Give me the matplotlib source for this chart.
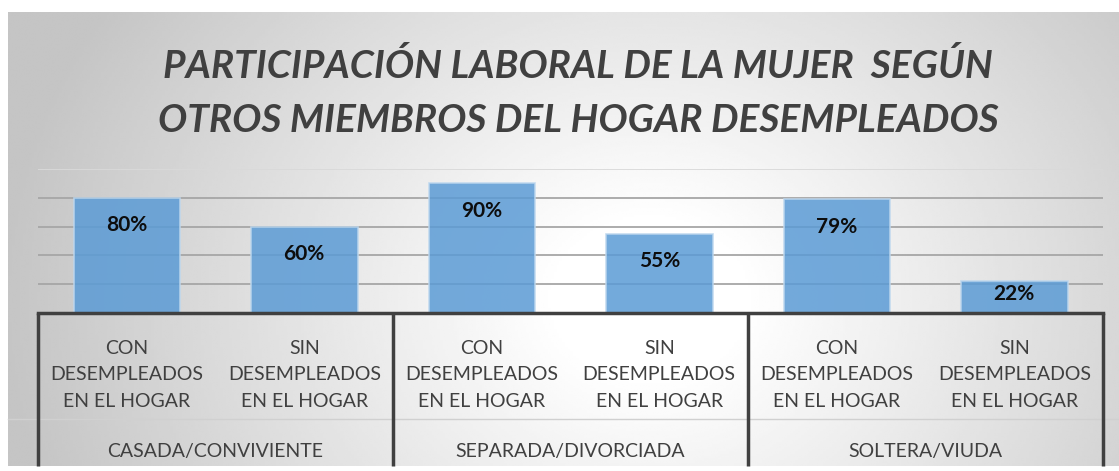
import numpy as np
import matplotlib
matplotlib.use("Agg")
import matplotlib.pyplot as plt
from matplotlib.transforms import blended_transform_factory

# ------------------------------------------------------
# DATA
# ------------------------------------------------------

GROUPS = ["CASADA/CONVIVIENTE", "SEPARADA/DIVORCIADA", "SOLTERA/VIUDA"]
SUBCATS = ["CON\nDESEMPLEADOS\nEN EL HOGAR", "SIN\nDESEMPLEADOS\nEN EL HOGAR"]
VALUES = [80, 60, 90, 55, 79, 22]   # %
TITLE = "PARTICIPACIÓN LABORAL DE LA MUJER  SEGÚN\nOTROS MIEMBROS DEL HOGAR DESEMPLEADOS"

FONT = "Lato"
W, H = 1119, 471

# ------------------------------------------------------
# FIGURE + GRADIENT BACKGROUND
# ------------------------------------------------------

fig = plt.figure(figsize=(W / 100, H / 100), dpi=100)
fig.patch.set_facecolor("white")

bg = fig.add_axes([8 / W, 5 / H, (W - 8) / W, (466 - 12) / H], zorder=0)
gx = np.linspace(8, W, 400)
gy = np.linspace(12, 466, 200)
XX, YY = np.meshgrid(gx, gy)
r = np.sqrt(((XX - 650) / 620) ** 2 + ((YY - 300) / 520) ** 2)
shade = np.clip((r - 0.15) / 0.9, 0, 1)
grey = 1.0 - shade * (1.0 - 0.77)
bg.imshow(grey, cmap="gray", vmin=0, vmax=1, aspect="auto", interpolation="bilinear")
bg.axis("off")

# ------------------------------------------------------
# BAR AXES
# ------------------------------------------------------

x0, x1, ytop, ybot = 38, 1103, 169, 313
ax = fig.add_axes([x0 / W, (H - ybot) / H, (x1 - x0) / W, (ybot - ytop) / H], zorder=1)
ax.patch.set_alpha(0)

x = np.arange(len(VALUES))
ax.set_xlim(-0.5, len(VALUES) - 0.5)
ax.set_ylim(0, 100)

for g in [20, 40, 60, 80]:
    ax.axhline(g, color="#a6a6a6", lw=1.3, zorder=1)
ax.axhline(100, color="#d9d9d9", lw=1.3, zorder=1)

ax.bar(x, VALUES, width=0.6, color="#5b9bd5", alpha=0.85,
       edgecolor="#bdd7ee", linewidth=1.2, zorder=2)

for xi, v in zip(x, VALUES):
    yl = v - 19 if v > 40 else v * 0.6
    ax.text(xi, yl, f"{v}%", ha="center", va="center", fontsize=15,
            fontweight="bold", family=FONT, color="#0d0d0d", zorder=3)

for s in ["top", "left", "right"]:
    ax.spines[s].set_visible(False)
ax.spines["bottom"].set_color("#404040")
ax.spines["bottom"].set_linewidth(2.5)
ax.spines["bottom"].set_zorder(4)
ax.set_xticks([])
ax.set_yticks([])

# two-level category axis
px = lambda yp: (ybot - yp) / (ybot - ytop)
tr = blended_transform_factory(ax.transData, ax.transAxes)

for xi in x:
    ax.text(xi, px(375), SUBCATS[xi % 2], transform=tr, ha="center", va="center",
            fontsize=14, family=FONT, color="#404040", linespacing=1.7)

for gi, name in enumerate(GROUPS):
    ax.text(2 * gi + 0.5, px(451), name, transform=tr, ha="center", va="center",
            fontsize=14, family=FONT, color="#404040")

# faint divider between the two label rows
ax.plot([-0.67, 5.59], [px(419), px(419)], transform=tr, color="#d0d0d0", lw=1,
        clip_on=False, zorder=1)

for b in [-0.5, 1.5, 3.5, 5.5]:
    ax.plot([b, b], [0, px(466)], transform=tr, color="#404040", lw=2.5,
            clip_on=False, zorder=4, solid_capstyle="butt")

fig.text(578 / W, 1 - 93 / H, TITLE, ha="center", va="center", fontsize=28,
         fontweight="bold", style="italic", family=FONT, color="#404040",
         linespacing=1.65)

fig.savefig("out.png", dpi=100)
